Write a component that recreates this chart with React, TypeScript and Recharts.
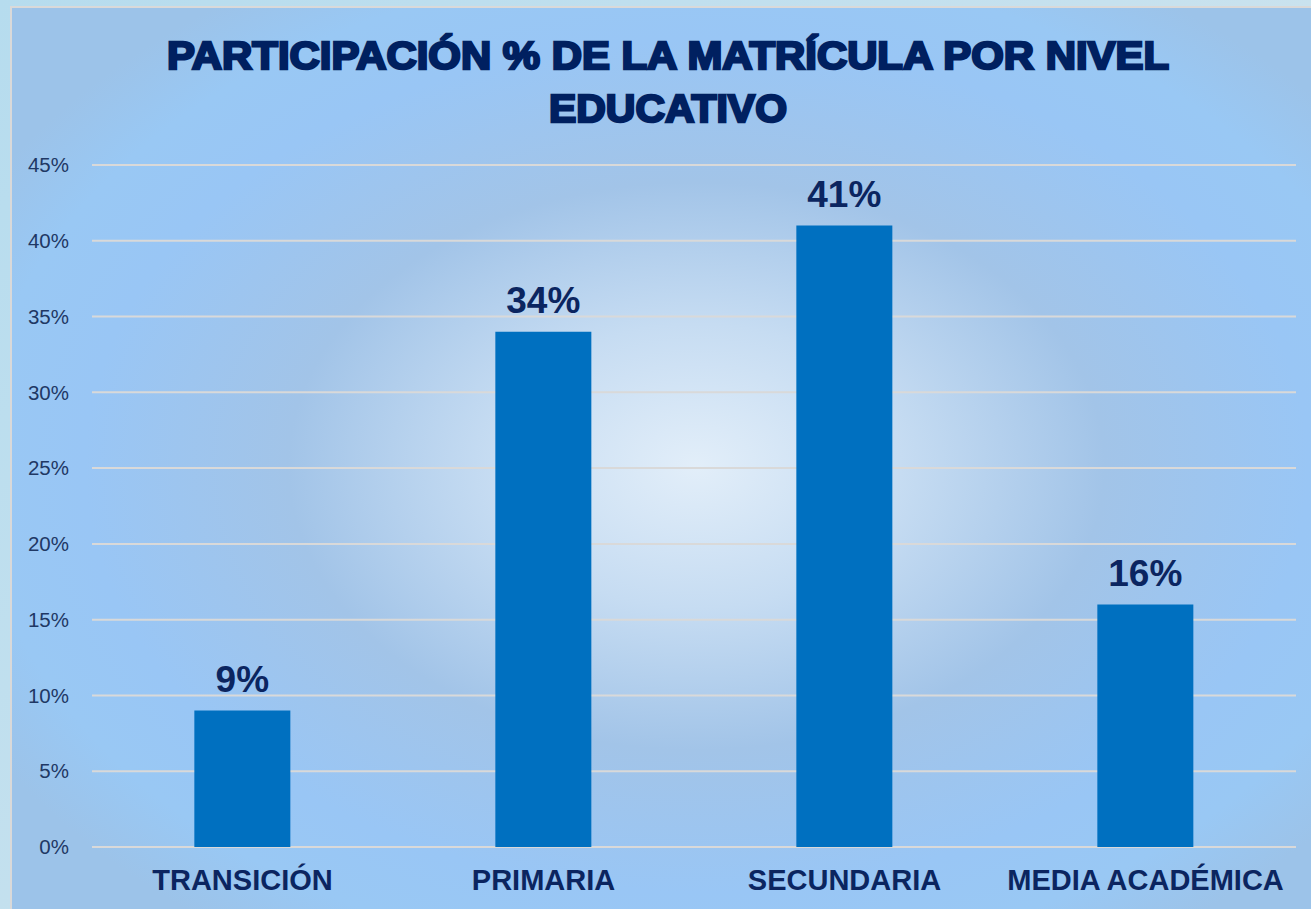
import { Bar, BarChart, CartesianGrid, LabelList, XAxis, YAxis } from "recharts";

const categories = ["TRANSICIÓN", "PRIMARIA", "SECUNDARIA", "MEDIA ACADÉMICA"];
const shares = [9, 34, 41, 16];
const yTicks = [0, 5, 10, 15, 20, 25, 30, 35, 40, 45];

const data = categories.map((name, i) => ({ name, value: shares[i] }));

const navy = "#0b2560";

export default function App() {
    return (
        <div
            style={{
                position: "absolute",
                left: 0,
                top: 0,
                width: 1311,
                height: 909,
                overflow: "hidden",
                background: "linear-gradient(135deg, #b6dcee 0%, #d6e6ee 100%)",
            }}
        >
            <div
                style={{
                    position: "absolute",
                    left: 10,
                    top: 6,
                    width: 1320,
                    height: 920,
                    boxSizing: "border-box",
                    border: "2px solid #d9d9d9",
                    background:
                        "radial-gradient(ellipse 62% 62% at 52% 50%, #e2eef9 0%, #c6dcf2 25%, #a2c4e8 50%, #99c6f5 75%, #99c8f4 88%, #9cc3e9 100%)",
                }}
            />
            <svg
                width={1311}
                height={140}
                style={{ position: "absolute", left: 0, top: 0 }}
                fontFamily="Liberation Sans, Arial, sans-serif"
            >
                <text
                    x={668}
                    y={69}
                    textAnchor="middle"
                    fontSize={39}
                    fontWeight={700}
                    fill="#002060"
                    stroke="#002060"
                    strokeWidth={2.4}
                    textLength={1002}
                    lengthAdjust="spacingAndGlyphs"
                >
                    PARTICIPACIÓN % DE LA MATRÍCULA POR NIVEL
                </text>
                <text
                    x={668}
                    y={122}
                    textAnchor="middle"
                    fontSize={39}
                    fontWeight={700}
                    fill="#002060"
                    stroke="#002060"
                    strokeWidth={2.4}
                    textLength={238}
                    lengthAdjust="spacingAndGlyphs"
                >
                    EDUCATIVO
                </text>
            </svg>
            <div style={{ position: "absolute", left: 0, top: 0 }}>
                <BarChart
                    width={1311}
                    height={909}
                    data={data}
                    margin={{ top: 165, right: 15, left: 0, bottom: 0 }}
                    barCategoryGap="34%"
                    style={{ fontFamily: "Liberation Sans, Arial, sans-serif" }}
                >
                    <CartesianGrid vertical={false} stroke="#d9d9d9" strokeWidth={2} />
                    <XAxis
                        dataKey="name"
                        height={62}
                        axisLine={false}
                        tickLine={false}
                        tickMargin={16}
                        interval={0}
                        tick={{ fill: navy, fontSize: 29, fontWeight: 700 }}
                    />
                    <YAxis
                        width={92}
                        domain={[0, 45]}
                        ticks={yTicks}
                        axisLine={false}
                        tickLine={false}
                        tickMargin={17}
                        tickFormatter={(v) => `${v}%`}
                        tick={{ fill: "#1f3864", fontSize: 20.5 }}
                    />
                    <Bar dataKey="value" fill="#0070c0" isAnimationActive={false}>
                        <LabelList
                            dataKey="value"
                            position="top"
                            offset={19}
                            formatter={(v: number) => `${v}%`}
                            fill={navy}
                            fontSize={37}
                            fontWeight={700}
                        />
                    </Bar>
                </BarChart>
            </div>
        </div>
    );
}
